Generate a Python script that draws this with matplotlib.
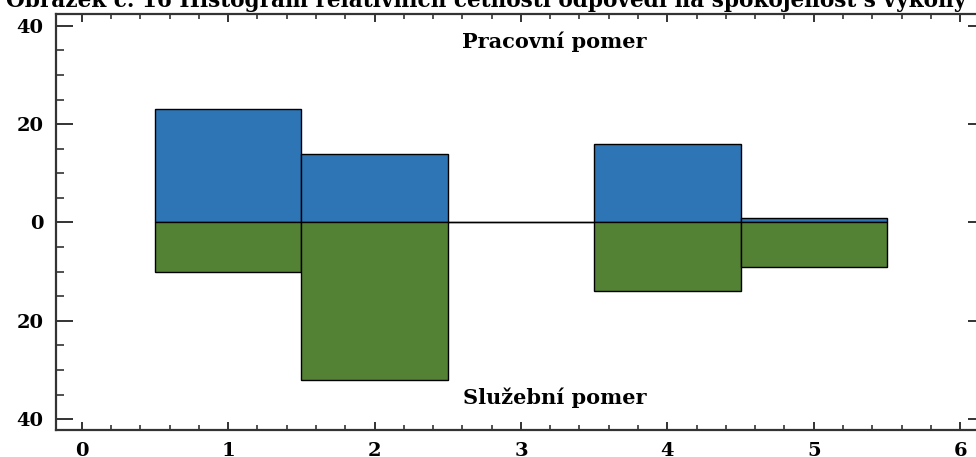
import matplotlib
matplotlib.use("Agg")
import matplotlib.pyplot as plt
from matplotlib.ticker import MultipleLocator, FuncFormatter

# relativni cetnosti (%) po tridach
tridy = [1, 2, 3, 4, 5]
pracovni = [23, 14, 0, 16, 1]
sluzebni = [10, 32, 0, 14, 9]

nadpis = "Obrázek č. 16 Histogram relativních četností odpovědí na spokojenost s výkony"
popis_horni = "Pracovní pomer"
popis_dolni = "Služební pomer"

plt.rcParams['font.family'] = ['DejaVu Serif']
plt.rcParams['font.weight'] = 'bold'

fig = plt.figure(figsize=(9.76, 4.57), dpi=100)
ax = fig.add_axes([56 / 976, 27 / 457, 929 / 976, 416 / 457])

# horni histogram (kladne), dolni (zaporne)
ax.bar(tridy, pracovni, width=1.0, color='#2E75B6', edgecolor='black', linewidth=1.0)
ax.bar(tridy, [-v for v in sluzebni], width=1.0, color='#548235', edgecolor='black', linewidth=1.0)

ax.set_xlim(-0.176, 6.17)
ax.set_ylim(-42.2, 42.4)

ax.xaxis.set_major_locator(MultipleLocator(1))
ax.xaxis.set_minor_locator(MultipleLocator(0.2))
ax.yaxis.set_major_locator(MultipleLocator(20))
ax.yaxis.set_minor_locator(MultipleLocator(5))
ax.yaxis.set_major_formatter(FuncFormatter(lambda v, p: "%d" % abs(v)))

ax.tick_params(axis='y', which='major', direction='in', length=12, width=1.4,
               pad=9, labelsize=14, right=True, colors='#333333', labelcolor='black')
ax.tick_params(axis='y', which='minor', direction='in', length=6, width=1.2,
               left=True, right=False, colors='#333333')
ax.tick_params(axis='x', which='major', direction='in', length=6, width=1.4,
               pad=9, labelsize=14, top=True, colors='#333333', labelcolor='black')
ax.tick_params(axis='x', which='minor', direction='in', length=3.5, width=1.2,
               top=True, colors='#333333')

for s in ax.spines.values():
    s.set_linewidth(1.6)
    s.set_color('#333333')
ax.spines['right'].set_visible(False)

ax.text(3.23, 35.5, popis_horni, ha='center', va='baseline', fontsize=15, fontweight='bold')
ax.text(3.23, -37.0, popis_dolni, ha='center', va='baseline', fontsize=15, fontweight='bold')

fig.text(0.498, 1 - 7 / 457, nadpis, ha='center', va='baseline', fontsize=15.6, fontweight='bold')

fig.savefig("out.png", dpi=100)
